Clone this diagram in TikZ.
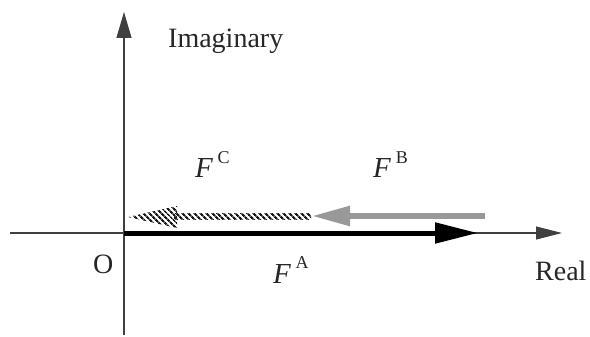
\documentclass[tikz,border=0pt]{standalone}
\usepackage{fontspec}
\setmainfont{Liberation Serif}
\usetikzlibrary{arrows.meta,patterns.meta}
\begin{document}
\begin{tikzpicture}[x=1pt,y=-1pt,
  lbl/.style={inner sep=0pt, anchor=base west, text=black!85, font=\fontsize{28}{32}\selectfont},
  flbl/.style={inner sep=0pt, anchor=base west, text=black!85, font=\fontsize{29}{32}\selectfont\itshape},
  axisline/.style={draw=black!75, line width=1.1pt},
  hatch/.style={pattern={Lines[angle=-45,distance=4pt,line width=2.3pt]}, pattern color=black!90}]
\useasboundingbox (0,0) rectangle (590,337);
% coordinates
\coordinate (O) at (124,233);
\coordinate (xl) at (10,233);
\coordinate (xr) at (562,233);
\coordinate (yb) at (124,335);
\coordinate (yt) at (124,12);
\coordinate (Aend) at (478,233);
\coordinate (Bstart) at (485,216);
\coordinate (Bend) at (312,216);
% axes
\draw[axisline,-{Triangle[length=26pt,width=13pt]}] (xl) -- (xr);
\draw[axisline,-{Triangle[length=26pt,width=15pt]}] (yb) -- (yt);
% F^A
\draw[black,line width=5pt,-{Triangle[length=43pt,width=20pt]}] (O) -- (Aend);
% F^B
\draw[black!40,line width=5.5pt,-{Triangle[length=38pt,width=19pt]}] (Bstart) -- (Bend);
% F^C hatched
\fill[hatch] (174,213.5) rectangle (311,219);
\fill[hatch] (128,217) -- (177,206) -- (177,228) -- cycle;
% labels
\node[lbl] (imag) at (168,48) {Imaginary};
\node[lbl] (orig) at (93,273) {O};
\node[lbl] (real) at (535,280) {Real};
\node[flbl] (FC) at (195,178) {F\,\raisebox{0.5em}{\normalfont\fontsize{18}{18}\selectfont C}};
\node[flbl] (FB) at (373,178) {F\,\raisebox{0.5em}{\normalfont\fontsize{18}{18}\selectfont B}};
\node[flbl] (FA) at (273,283) {F\,\raisebox{0.5em}{\normalfont\fontsize{18}{18}\selectfont A}};
\end{tikzpicture}
\end{document}
